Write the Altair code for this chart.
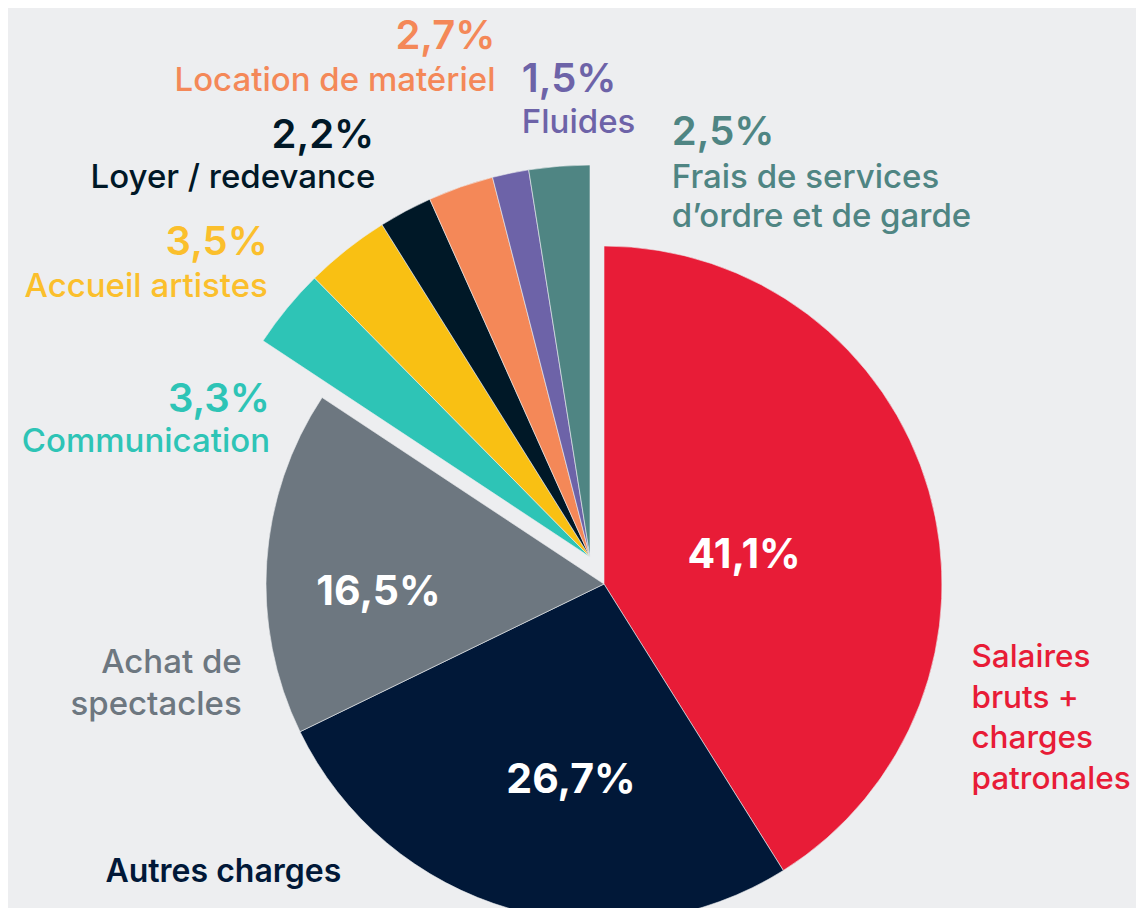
import math
import altair as alt
import pandas as pd

# ---- data -------------------------------------------------------------
categories = [
    "Salaires bruts + charges patronales",
    "Autres charges",
    "Achat de spectacles",
    "Communication",
    "Accueil artistes",
    "Loyer / redevance",
    "Location de matériel",
    "Fluides",
    "Frais de services d’ordre et de garde",
]
shares = [41.1, 26.7, 16.5, 3.3, 3.5, 2.2, 2.7, 1.5, 2.5]
pct_text = ["41,1%", "26,7%", "16,5%", "3,3%", "3,5%", "2,2%", "2,7%", "1,5%", "2,5%"]
name_text = [
    "Salaires\nbruts +\ncharges\npatronales",
    "Autres charges",
    "Achat de\nspectacles",
    "Communication",
    "Accueil artistes",
    "Loyer / redevance",
    "Location de matériel",
    "Fluides",
    "Frais de services\nd’ordre et de garde",
]
groups = ["principal"] * 3 + ["détail"] * 6

colors = ["#E81C37", "#011838", "#6D7780", "#2EC4B6", "#F9C013",
          "#001827", "#F48858", "#6D63A8", "#4F8583"]
BG = "#EDEEF0"
FONT = "Inter"

df = pd.DataFrame({
    "cat": categories,
    "share": shares,
    "pct": pct_text,
    "name": name_text,
    "grp": groups,
    "order": list(range(len(categories))),
})

theta_scale = alt.Scale(domain=[0, 100], range=[0, 2 * math.pi])
color_enc = alt.Color("cat:N", scale=alt.Scale(domain=categories, range=colors), legend=None)

base = alt.Chart(df).transform_window(
    end="sum(share)", sort=[alt.SortField("order", order="ascending")], frame=[None, 0]
).transform_calculate(
    start="datum.end - datum.share",
    mid="datum.end - datum.share / 2",
)

BIG = (596, 576)     # centre of the main pie
SMALL = (582, 549)   # apex of the exploded group

main_arcs = base.transform_filter("datum.grp == 'principal'").mark_arc(
    radius=338, stroke=BG, strokeWidth=0.6
).encode(
    theta=alt.Theta("start:Q", scale=theta_scale),
    theta2="end:Q",
    color=color_enc,
    x=alt.value(BIG[0]), y=alt.value(BIG[1]),
)

detail_arcs = base.transform_filter("datum.grp == 'détail'").mark_arc(
    radius=392, stroke=BG, strokeWidth=0.6
).encode(
    theta=alt.Theta("start:Q", scale=theta_scale),
    theta2="end:Q",
    color=color_enc,
    x=alt.value(SMALL[0]), y=alt.value(SMALL[1]),
)


def label(i, field, origin, r, dx, dy, align, size, weight, color, lh=None):
    kw = dict(radius=r, dx=dx, dy=dy, align=align, fontSize=size, fontWeight=weight,
              font=FONT, color=color, baseline="alphabetic")
    if lh:
        kw["lineHeight"] = lh
        kw["lineBreak"] = "\n"
    return base.transform_filter(f"datum.order == {i}").mark_text(**kw).encode(
        theta=alt.Theta("mid:Q", scale=theta_scale),
        text=alt.Text(f"{field}:N"),
        x=alt.value(origin[0]), y=alt.value(origin[1]),
    )


W = "#FFFFFF"
PS, PW = 40, 600   # small percentage labels
NS, NW = 33, 500   # category names
layers = [
    main_arcs, detail_arcs,
    # values inside the main slices
    label(0, "pct", BIG, 150, -4, 25, "center", 41, 700, W),
    label(1, "pct", BIG, 210, 25, 7, "center", 41, 700, W),
    label(2, "pct", BIG, 226, 0, 36, "center", 41, 700, W),
    # names of the main slices
    label(0, "name", BIG, 350, 31, 180, "left", 31.5, NW, colors[0], lh=40.5),
    label(1, "name", BIG, 350, -402, -38, "left", 32, 600, colors[1]),
    label(2, "name", BIG, 350, -13, 112, "right", NS, NW, colors[2], lh=42),
    # exploded group: value + name
    label(3, "pct", SMALL, 400, -11, 109, "right", PS, PW, colors[3]),
    label(3, "name", SMALL, 400, -11, 149, "right", NS, NW, colors[3]),
    label(4, "pct", SMALL, 400, -74, 12, "right", PS, PW, "#FBBF2C"),
    label(4, "name", SMALL, 400, -74, 54, "right", NS, NW, "#FBBF2C"),
    label(5, "pct", SMALL, 420, -18, -38, "right", PS, PW, colors[5]),
    label(5, "name", SMALL, 420, -17, 2, "right", NS, NW, colors[5]),
    label(6, "pct", SMALL, 420, 44, -112, "right", PS, PW, colors[6]),
    label(6, "name", SMALL, 420, 44, -70, "right", NS, NW, colors[6]),
    label(7, "pct", SMALL, 420, 17, -54, "left", PS, PW, colors[7]),
    label(7, "name", SMALL, 420, 17, -13, "left", NS, NW, colors[7]),
    label(8, "pct", SMALL, 410, 114, -3, "left", PS, PW, colors[8]),
    label(8, "name", SMALL, 410, 114, 40, "left", NS, NW, colors[8], lh=39),
]

chart = alt.layer(*layers).properties(
    width=1128, height=900,
    autosize=alt.AutoSizeParams(type="none"),
    padding=0,
    background=BG,
).configure_view(stroke=None)

chart.save("out.html", embed_options={"renderer": "svg", "actions": False})
